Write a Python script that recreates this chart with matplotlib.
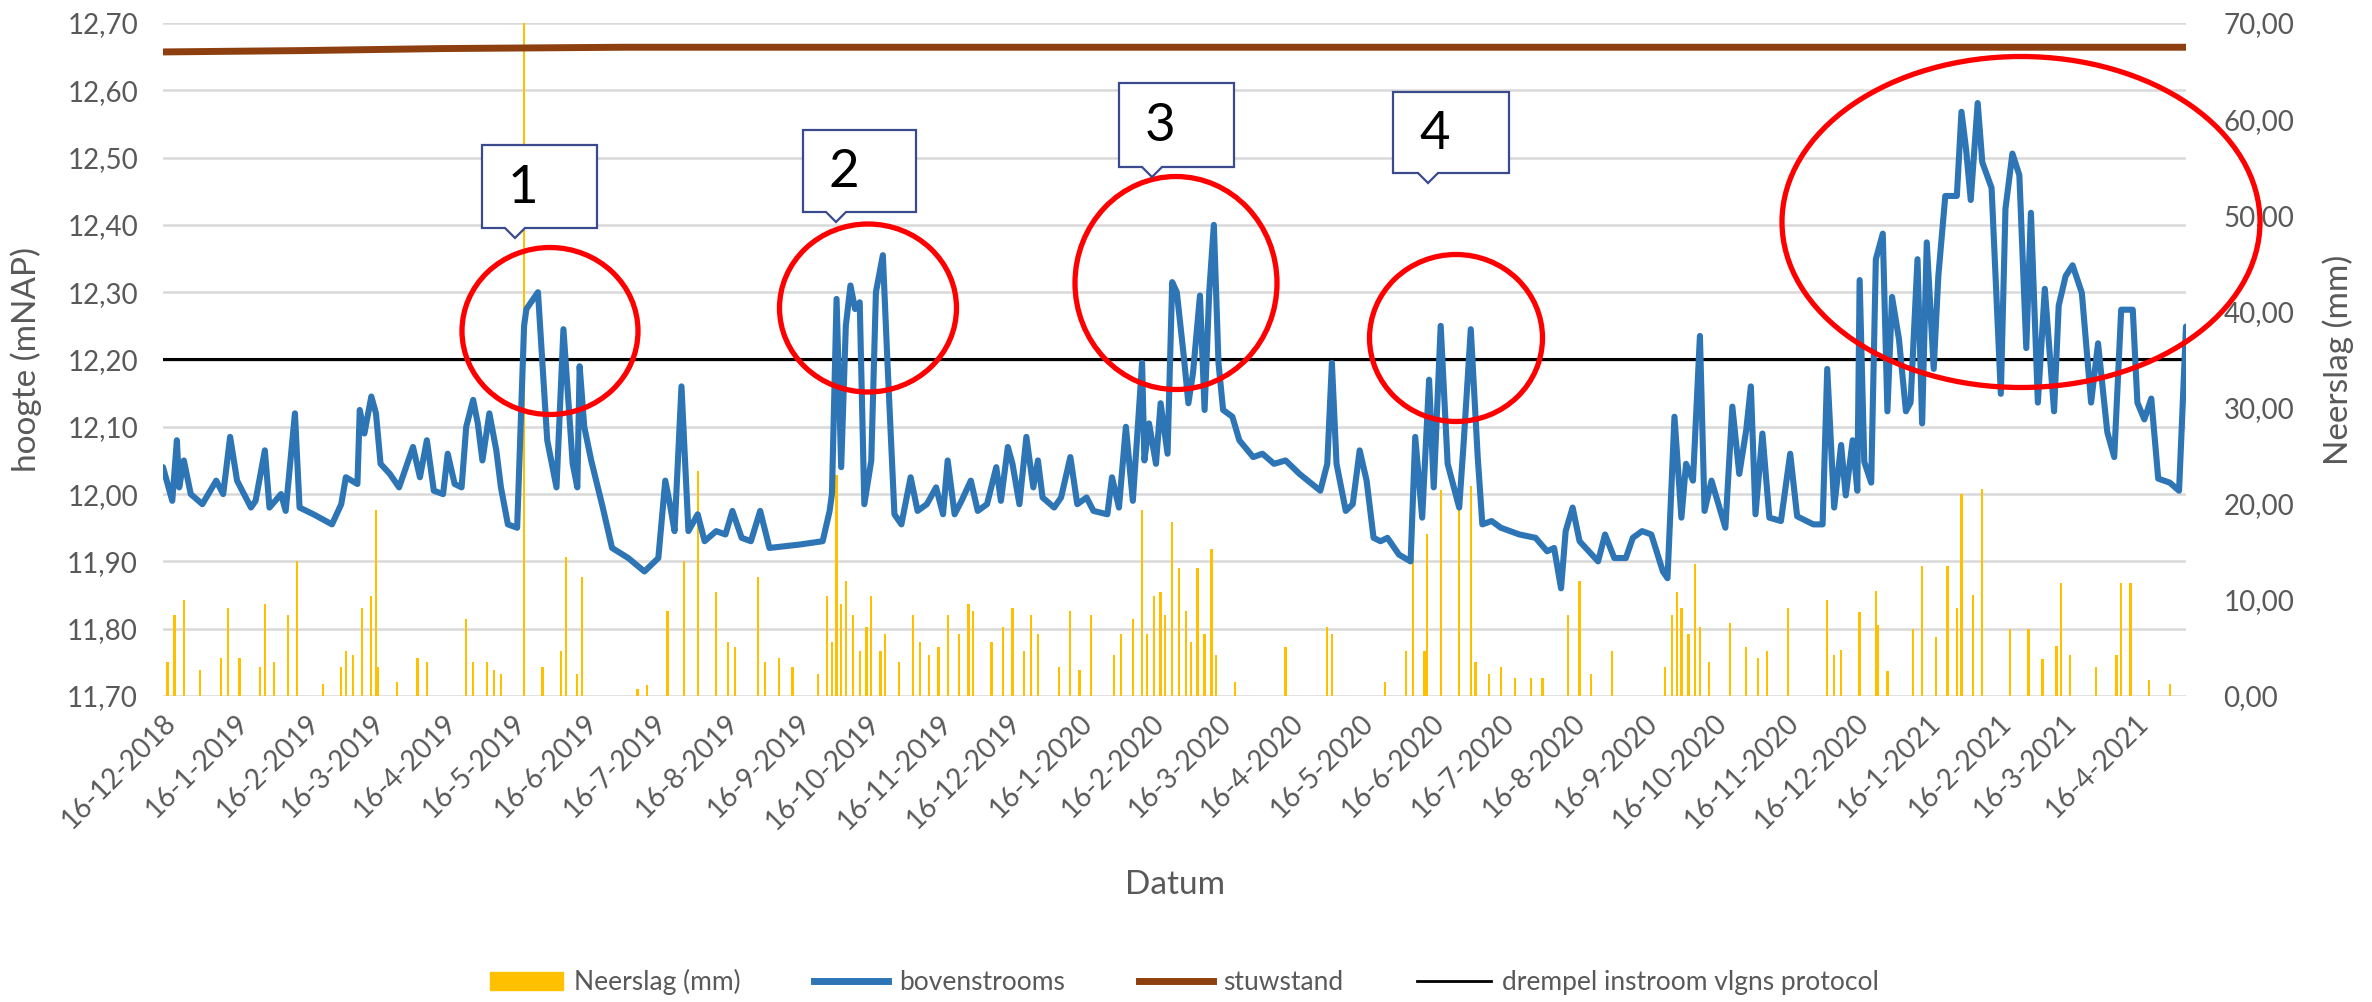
import numpy as np
import pandas as pd
import matplotlib
matplotlib.use("Agg")
import matplotlib.pyplot as plt
from matplotlib.patches import Ellipse, Polygon, Patch
from matplotlib.lines import Line2D
from matplotlib.transforms import Affine2D
from matplotlib.ticker import FuncFormatter, MultipleLocator

plt.rcParams['font.family'] = ['Lato', 'DejaVu Sans']

# --- data ---
start = pd.Timestamp("2018-12-16")
n_days = 875

# bovenstrooms water level, (days after 16-12-2018, mNAP)
level_days = [0, 4, 6, 7, 9, 12, 17, 23, 26, 29, 32, 38, 40, 44, 46, 51, 53, 57, 59, 65,
              73, 77, 79, 84, 85, 87, 90, 92, 94, 98, 102, 108, 111, 114, 117, 121, 123, 126, 129, 131,
              134, 136, 138, 141, 144, 146, 149, 153, 156, 157, 162, 166, 170, 173, 177, 179, 180, 182, 185, 190,
              194, 201, 208, 214, 217, 219, 221, 224, 227, 231, 234, 239, 243, 246, 250, 254, 258, 262, 275, 285,
              288, 289, 291, 293, 295, 297, 299, 301, 303, 306, 308, 311, 313, 316, 319, 323, 326, 330, 334, 337,
              339, 342, 345, 349, 352, 356, 360, 362, 365, 367, 370, 373, 376, 378, 380, 385, 388, 392, 395, 399,
              402, 408, 410, 413, 416, 419, 423, 424, 426, 429, 431, 434, 436, 438, 441, 443, 445, 448, 450, 452,
              454, 456, 458, 462, 465, 471, 475, 480, 485, 491, 500, 503, 505, 507, 511, 514, 517, 520, 523, 526,
              529, 534, 539, 541, 544, 547, 549, 552, 555, 560, 562, 565, 568, 570, 574, 578, 586, 593, 598, 601,
              604, 606, 609, 612, 616, 620, 623, 627, 632, 635, 639, 643, 648, 650, 653, 656, 658, 661, 664, 666,
              669, 672, 675, 678, 681, 684, 686, 688, 691, 694, 699, 703, 706, 713, 717, 719, 722, 725, 727, 730,
              732, 733, 735, 738, 740, 743, 745, 747, 750, 753, 755, 758, 760, 762, 765, 767, 770, 775, 777, 779,
              781, 784, 786, 790, 794, 796, 799, 802, 805, 807, 810, 813, 817, 819, 822, 825, 829, 833, 836, 840,
              843, 846, 851, 853, 856, 859, 862, 867, 871, 874]
level_values = [12.04, 11.99, 12.08, 12.01, 12.05, 12.00, 11.985, 12.02, 12.00, 12.085, 12.02, 11.98, 11.99, 12.065, 11.98, 12.00, 11.975, 12.12, 11.98, 11.97,
                11.955, 11.985, 12.025, 12.015, 12.125, 12.09, 12.145, 12.12, 12.045, 12.03, 12.01, 12.07, 12.025, 12.08, 12.005, 12.00, 12.06, 12.015, 12.01, 12.10,
                12.14, 12.105, 12.05, 12.12, 12.065, 12.01, 11.955, 11.95, 12.25, 12.275, 12.30, 12.08, 12.01, 12.245, 12.045, 12.01, 12.19, 12.10, 12.05, 11.98,
                11.92, 11.905, 11.885, 11.905, 12.02, 11.985, 11.945, 12.16, 11.945, 11.97, 11.93, 11.945, 11.94, 11.975, 11.935, 11.93, 11.975, 11.92, 11.925, 11.93,
                11.975, 12.00, 12.29, 12.04, 12.25, 12.31, 12.275, 12.285, 11.985, 12.05, 12.30, 12.355, 12.195, 11.97, 11.955, 12.025, 11.975, 11.985, 12.01, 11.97,
                12.05, 11.97, 11.99, 12.02, 11.975, 11.985, 12.04, 11.99, 12.07, 12.045, 11.985, 12.085, 12.01, 12.05, 11.995, 11.98, 11.995, 12.055, 11.985, 11.995,
                11.975, 11.97, 12.025, 11.98, 12.10, 11.99, 12.195, 12.05, 12.105, 12.045, 12.135, 12.06, 12.315, 12.30, 12.205, 12.135, 12.18, 12.295, 12.125, 12.30,
                12.40, 12.195, 12.125, 12.115, 12.08, 12.055, 12.06, 12.045, 12.05, 12.03, 12.005, 12.045, 12.195, 12.045, 11.975, 11.985, 12.065, 12.02, 11.935, 11.93,
                11.935, 11.91, 11.90, 12.085, 11.965, 12.17, 12.01, 12.25, 12.045, 11.98, 12.08, 12.245, 12.055, 11.955, 11.96, 11.95, 11.94, 11.935, 11.915, 11.92,
                11.86, 11.945, 11.98, 11.93, 11.915, 11.90, 11.94, 11.905, 11.905, 11.935, 11.945, 11.94, 11.885, 11.875, 12.115, 11.965, 12.045, 12.02, 12.235, 11.975,
                12.02, 11.985, 11.95, 12.13, 12.03, 12.095, 12.16, 11.97, 12.09, 11.965, 11.96, 12.06, 11.967, 11.955, 11.955, 12.186, 11.98, 12.073, 11.998, 12.08,
                12.005, 12.318, 12.048, 12.017, 12.349, 12.387, 12.123, 12.293, 12.23, 12.123, 12.136, 12.349, 12.105, 12.374, 12.186, 12.324, 12.443, 12.443, 12.568, 12.512,
                12.437, 12.581, 12.493, 12.455, 12.149, 12.424, 12.506, 12.474, 12.217, 12.418, 12.136, 12.305, 12.123, 12.28, 12.324, 12.34, 12.299, 12.136, 12.224, 12.092,
                12.055, 12.274, 12.274, 12.136, 12.111, 12.142, 12.023, 12.017, 12.005, 12.249]

# stuwstand and drempel
stuw_days = [0, 60, 120, 200, 874]
stuw_values = [12.657, 12.659, 12.662, 12.664, 12.664]
drempel_days = [0, 874]
drempel_values = [12.20, 12.20]

# neerslag (mm)
rain_days = [2, 5, 9, 16, 25, 28, 33, 42, 44, 48, 54, 58, 69, 77, 79, 82, 86, 90, 92, 93,
             101, 110, 114, 131, 134, 140, 143, 146, 156, 164, 172, 174, 179, 181, 205, 209, 218, 225, 231, 239,
             244, 247, 257, 260, 266, 272, 283, 287, 289, 291, 293, 295, 298, 301, 304, 306, 310, 312, 318, 324,
             327, 331, 335, 339, 344, 348, 350, 358, 363, 367, 372, 375, 378, 387, 392, 396, 401, 411, 414, 419,
             423, 425, 428, 431, 433, 436, 439, 442, 444, 447, 450, 453, 455, 463, 485, 503, 505, 528, 537, 540,
             545, 546, 552, 560, 565, 567, 573, 578, 584, 591, 596, 607, 612, 617, 626, 649, 652, 654, 656, 659,
             662, 664, 668, 677, 684, 689, 693, 702, 719, 722, 725, 733, 740, 741, 745, 756, 760, 766, 771, 775,
             777, 782, 786, 798, 806, 812, 818, 820, 824, 835, 844, 846, 850, 858, 867]
rain_mm = [3.5, 8.4, 10, 2.7, 4, 9.2, 4, 3, 9.6, 3.5, 8.4, 14, 1.3, 3, 4.7, 4.3, 9.2, 10.4, 19.3, 3,
           1.5, 4, 3.5, 8, 3.5, 3.5, 2.7, 2.3, 75, 3, 4.7, 14.5, 2.3, 12.4, 0.7, 1.1, 8.8, 14, 23.4, 10.8,
           5.6, 5.1, 12.4, 3.5, 4, 3, 2.3, 10.4, 5.6, 23, 9.6, 12, 8.4, 4.7, 7.2, 10.4, 4.7, 6.4, 3.5, 8.4,
           5.6, 4.3, 5.1, 8.4, 6.4, 9.6, 8.8, 5.6, 7.2, 9.2, 4.7, 8.4, 6.4, 3, 8.8, 2.7, 8.4, 4.3, 6.4, 8,
           19.3, 6.4, 10.4, 10.8, 8.4, 18.1, 13.3, 8.8, 5.6, 13.3, 6.4, 15.3, 4.3, 1.5, 5.1, 7.2, 6.4, 1.5, 4.7, 14.5,
           4.7, 16.9, 21.4, 19.3, 21.8, 3.5, 2.3, 3, 1.9, 1.9, 1.9, 8.4, 12, 2.3, 4.7, 3, 8.4, 10.8, 9.2, 6.4,
           13.7, 7.2, 3.5, 7.6, 5.1, 4, 4.7, 9.2, 10, 4.3, 4.8, 8.7, 10.9, 7.4, 2.6, 7, 13.5, 6.1, 13.5, 9.2,
           21, 10.5, 21.5, 7, 7, 3.9, 5.2, 11.8, 4.3, 3, 4.3, 11.8, 11.8, 1.7, 1.2]

tick_dates = pd.date_range("2018-12-16", "2021-04-16", freq=pd.DateOffset(months=1))
tick_labels = [f"{d.day}-{d.month}-{d.year}" for d in tick_dates]

# annotations in image pixels: red ellipses (cx, cy, w, h) and numbered callouts
ellipses = [(550, 331, 176, 167), (868, 308, 177, 168), (1176, 283, 202, 213),
            (1456, 338, 173, 167), (2021, 222, 478, 331)]
callouts = [("1", 482, 597, 145, 228, 515), ("2", 803, 916, 130, 212, 836),
            ("3", 1119, 1234, 83, 167, 1152), ("4", 1393, 1509, 92, 173, 1428)]

to_dates = lambda days: start + pd.to_timedelta(days, unit="D")

W, H = 2372, 1002
fig = plt.figure(figsize=(W / 100, H / 100), dpi=100)
ax = fig.add_axes([163 / W, 1 - 696 / H, (2186 - 163) / W, (696 - 23) / H])
ax2 = ax.twinx()
ax.set_zorder(ax2.get_zorder() + 1)
ax.patch.set_visible(False)

grey = "#595959"

# rain on the right axis, gridlines behind
for v in np.arange(0, 71, 7):
    ax2.axhline(v, color="#D9D9D9", lw=1.8, zorder=0)
ax2.bar(to_dates(rain_days), rain_mm, width=1.0, color="#FFC000", zorder=2)
ax2.set_ylim(0, 70)
ax2.yaxis.set_major_locator(MultipleLocator(10))
ax2.yaxis.set_major_formatter(FuncFormatter(lambda v, p: f"{v:.2f}".replace(".", ",")))

ax.plot(to_dates(stuw_days), stuw_values, color="#8E3F10", lw=5, solid_capstyle="butt")
ax.plot(to_dates(drempel_days), drempel_values, color="black", lw=2.2)
ax.plot(to_dates(level_days), level_values, color="#2E75B6", lw=4.4,
        solid_joinstyle="round", solid_capstyle="round")

ax.set_ylim(11.70, 12.70)
ax.yaxis.set_major_locator(MultipleLocator(0.1))
ax.yaxis.set_major_formatter(FuncFormatter(lambda v, p: f"{v:.2f}".replace(".", ",")))
ax.set_xlim(start, to_dates(n_days - 1))
ax.set_xticks(tick_dates)
ax.set_xticklabels(tick_labels, rotation=45, ha="right", rotation_mode="anchor")

for a in (ax, ax2):
    for s in a.spines.values():
        s.set_visible(False)
ax.tick_params(axis="both", length=0, colors=grey, labelsize=20)
ax.tick_params(axis="y", pad=18)
ax.tick_params(axis="x", pad=10)
ax2.tick_params(axis="y", length=0, colors=grey, labelsize=20, pad=27)

ax.set_ylabel("hoogte (mNAP)", fontsize=24, color=grey)
ax.yaxis.set_label_coords(-0.0598, 0.5)
ax2.set_ylabel("Neerslag (mm)", fontsize=24, color=grey)
ax2.yaxis.set_label_coords(1.0672, 0.5)
ax.set_xlabel("Datum", fontsize=24, color=grey)
ax.xaxis.set_label_coords(0.5, -0.2585)

handles = [Patch(color="#FFC000"),
           Line2D([], [], color="#2E75B6", lw=5),
           Line2D([], [], color="#8E3F10", lw=5),
           Line2D([], [], color="black", lw=2)]
fig.legend(handles, ["Neerslag (mm)", "bovenstrooms", "stuwstand", "drempel instroom vlgns protocol"],
           loc="center", bbox_to_anchor=(1184 / W, 1 - 982 / H), ncol=4, frameon=False,
           fontsize=19, labelcolor=grey, handlelength=2.8, handletextpad=0.4, columnspacing=2.8)

# image-pixel transform (y down)
pix = Affine2D().scale(1, -1).translate(0, H)

for cx, cy, w, h in ellipses:
    fig.add_artist(Ellipse((cx, cy), w, h, transform=pix, fill=False, ec="#FF0000", lw=3.8, zorder=10))

for label, x0, x1, y0, y1, tx in callouts:
    pts = [(x0, y0), (x1, y0), (x1, y1), (tx + 10, y1), (tx, y1 + 10), (tx - 10, y1), (x0, y1)]
    fig.add_artist(Polygon(pts, closed=True, transform=pix, fc="white", ec="#3B4A8C", lw=1.6, zorder=11))
    fig.text(x0 + 0.36 * (x1 - x0), y0 + 0.52 * (y1 - y0), label, transform=pix,
             ha="center", va="center", fontsize=38, color="black", zorder=12)

fig.savefig("out.png", dpi=100)
